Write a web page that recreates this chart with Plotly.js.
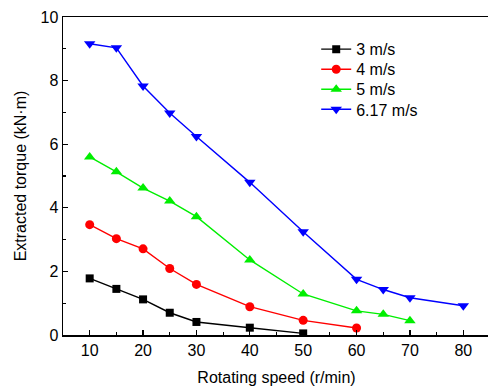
<!DOCTYPE html>
<html><head><meta charset="utf-8">
<script src="https://cdn.plot.ly/plotly-3.0.1.min.js"></script>
<style>html,body{margin:0;padding:0;overflow:hidden;background:#fff}#c{width:490px;height:392px}</style>
</head><body><div id="c"></div>
<script>
const speed3 = [10, 15, 20, 25, 30, 40, 50];
const torque3 = [1.78, 1.45, 1.12, 0.70, 0.41, 0.23, 0.05];
const speed4 = [10, 15, 20, 25, 30, 40, 50, 60];
const torque4 = [3.47, 3.03, 2.71, 2.09, 1.59, 0.89, 0.46, 0.22];
const speed5 = [10, 15, 20, 25, 30, 40, 50, 60, 65, 70];
const torque5 = [5.6, 5.13, 4.62, 4.21, 3.72, 2.36, 1.29, 0.76, 0.65, 0.45];
const speed617 = [10, 15, 20, 25, 30, 40, 50, 60, 65, 70, 80];
const torque617 = [9.16, 9.03, 7.83, 6.98, 6.24, 4.8, 3.25, 1.75, 1.43, 1.17, 0.92];
const names = ['3 m/s', '4 m/s', '5 m/s', '6.17 m/s'];

const mk = (x, y, name, color, symbol, size, lg) => ({
  x, y, name, type: 'scatter', mode: 'lines+markers', legend: lg,
  line: {color, width: 1.4},
  marker: {color, symbol, size}
});
const data = [
  mk(speed3, torque3, names[0], '#000000', 'square', 8, 'legend'),
  mk(speed4, torque4, names[1], '#ff0000', 'circle', 9, 'legend2'),
  mk(speed5, torque5, names[2], '#00ee00', 'triangle-up', 10, 'legend3'),
  mk(speed617, torque617, names[3], '#0000ff', 'triangle-down', 10, 'legend4')
];
const tickFont = {family: 'Liberation Sans, Arial, sans-serif', size: 16, color: '#000'};
const axisCommon = {
  showline: true, linecolor: '#000', linewidth: 1.5, mirror: true,
  ticks: 'inside', ticklen: 5, tickwidth: 1.2, tickcolor: '#000',
  showgrid: false, zeroline: false, tickfont: tickFont
};
const mirrorAxis = {
  showline: false, ticks: 'inside', ticklen: 5, tickwidth: 1.2, tickcolor: '#000',
  showgrid: false, zeroline: false, showticklabels: false
};
const lg = (y) => ({x: 0.593, y, xanchor: 'left', yanchor: 'top',
  bgcolor: 'rgba(0,0,0,0)', font: {size: 16}, itemwidth: 30});
const layout = {
  width: 490, height: 392,
  margin: {l: 63, r: 0, t: 17, b: 57},
  paper_bgcolor: '#fff', plot_bgcolor: '#fff',
  font: {family: 'Liberation Sans, Arial, sans-serif', color: '#000'},
  xaxis: Object.assign({}, axisCommon, {
    range: [5, 85], dtick: 10, tick0: 0,
    minor: {dtick: 5, ticks: 'inside', ticklen: 3, tickcolor: '#000', showgrid: false},
    title: {text: 'Rotating speed (r/min)', font: {size: 16}, standoff: 14}
  }),
  yaxis: Object.assign({}, axisCommon, {
    range: [0, 10], dtick: 2, tick0: 0,
    minor: {dtick: 1, ticks: 'inside', ticklen: 3, tickcolor: '#000', showgrid: false},
    title: {text: 'Extracted torque (kN·m)', font: {size: 16}, standoff: 10}
  }),
  xaxis2: Object.assign({}, mirrorAxis, {overlaying: 'x', side: 'top', range: [5, 85], dtick: 10, tick0: 0}),
  yaxis2: Object.assign({}, mirrorAxis, {overlaying: 'y', side: 'right', range: [0, 10], dtick: 2, tick0: 0}),
  showlegend: true,
  legend: lg(0.952),
  legend2: lg(0.889),
  legend3: lg(0.826),
  legend4: lg(0.763)
};
Plotly.newPlot('c', data, layout, {displayModeBar: false, staticPlot: true});
</script></body></html>
